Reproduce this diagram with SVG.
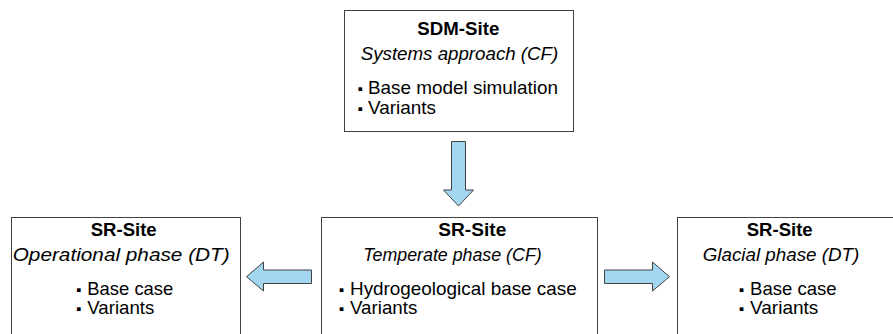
<svg xmlns="http://www.w3.org/2000/svg" width="893" height="334" viewBox="0 0 893 334">
  <style>
    .box { fill: #ffffff; stroke: #404040; stroke-width: 1; }
    .arrow { fill: #a3d7f1; stroke: #404040; stroke-width: 1; stroke-linejoin: miter; }
    text { font-family: "Liberation Sans", Arial, "DejaVu Sans", sans-serif; font-size: 18.5px; fill: #000000; }
    .title { font-weight: bold; }
    .sub { font-style: italic; }
    .dot { font-size: 15px; }
  </style>
  <rect width="893" height="334" fill="#ffffff"/>

  <!-- connectors: block arrows between stages -->
  <g id="connectors">
    <polygon class="arrow" points="451.5,141.5 465.5,141.5 465.5,190 473.5,190 458.5,206 443.5,190 451.5,190"/>
    <polygon class="arrow" points="311.5,270 311.5,283.5 263.5,283.5 263.5,291 246.5,276.7 263.5,262 263.5,270"/>
    <polygon class="arrow" points="604.5,270 604.5,283.5 652.5,283.5 652.5,291 669.5,276.7 652.5,262 652.5,270"/>
  </g>

  <!-- SDM-Site -->
  <g id="sdm-site">
    <rect class="box" x="344.5" y="10.5" width="229" height="121"/>
    <text class="title" x="417.3" y="35" textLength="82" lengthAdjust="spacingAndGlyphs">SDM-Site</text>
    <text class="sub" x="360.7" y="60" textLength="197.6" lengthAdjust="spacingAndGlyphs">Systems approach (CF)</text>
    <text class="dot" x="357.5" y="94.3">▪</text>
    <text x="368" y="94.3" textLength="190" lengthAdjust="spacingAndGlyphs">Base model simulation</text>
    <text class="dot" x="357.5" y="114">▪</text>
    <text x="368" y="114" textLength="68" lengthAdjust="spacingAndGlyphs">Variants</text>
  </g>

  <!-- SR-Site, operational phase -->
  <g id="sr-site-operational">
    <rect class="box" x="11.5" y="217.5" width="229" height="130"/>
    <text class="title" x="90.7" y="235.5" textLength="66" lengthAdjust="spacingAndGlyphs">SR-Site</text>
    <text class="sub" x="12.7" y="261" textLength="217" lengthAdjust="spacingAndGlyphs">Operational phase (DT)</text>
    <text class="dot" x="76" y="295">▪</text>
    <text x="87.3" y="295" textLength="86" lengthAdjust="spacingAndGlyphs">Base case</text>
    <text class="dot" x="76" y="314">▪</text>
    <text x="87.3" y="314" textLength="67" lengthAdjust="spacingAndGlyphs">Variants</text>
  </g>

  <!-- SR-Site, temperate phase -->
  <g id="sr-site-temperate">
    <rect class="box" x="321.5" y="217.5" width="276" height="130"/>
    <text class="title" x="438.3" y="235.5" textLength="68" lengthAdjust="spacingAndGlyphs">SR-Site</text>
    <text class="sub" x="363.3" y="261" textLength="178.4" lengthAdjust="spacingAndGlyphs">Temperate phase (CF)</text>
    <text class="dot" x="338.7" y="294.5">▪</text>
    <text x="350" y="294.5" textLength="226.7" lengthAdjust="spacingAndGlyphs">Hydrogeological base case</text>
    <text class="dot" x="338.7" y="314">▪</text>
    <text x="350" y="314" textLength="67.3" lengthAdjust="spacingAndGlyphs">Variants</text>
  </g>

  <!-- SR-Site, glacial phase -->
  <g id="sr-site-glacial">
    <rect class="box" x="677.5" y="217.5" width="230" height="130"/>
    <text class="title" x="746.7" y="235.5" textLength="66" lengthAdjust="spacingAndGlyphs">SR-Site</text>
    <text class="sub" x="702.7" y="261" textLength="156.6" lengthAdjust="spacingAndGlyphs">Glacial phase (DT)</text>
    <text class="dot" x="738.7" y="295">▪</text>
    <text x="750" y="295" textLength="86.7" lengthAdjust="spacingAndGlyphs">Base case</text>
    <text class="dot" x="738.7" y="314">▪</text>
    <text x="750" y="314" textLength="68.3" lengthAdjust="spacingAndGlyphs">Variants</text>
  </g>
</svg>
